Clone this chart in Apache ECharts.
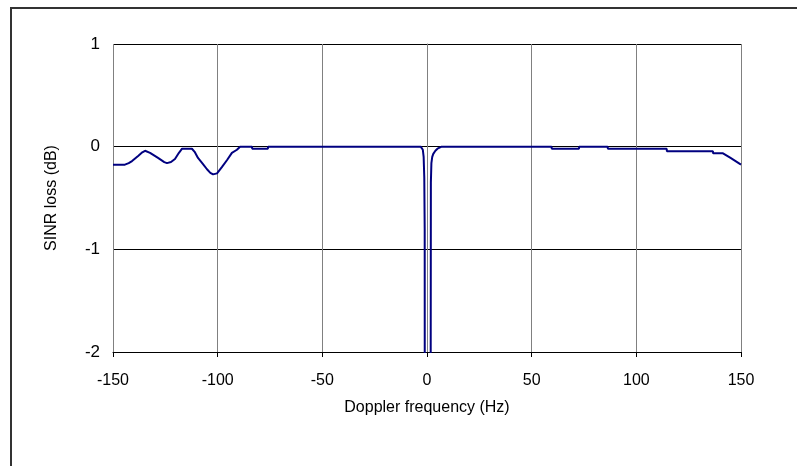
<!DOCTYPE html>
<html>
<head>
<meta charset="utf-8">
<script src="https://cdn.jsdelivr.net/npm/echarts@6/dist/echarts.min.js"></script>
<style>html,body{margin:0;padding:0;background:#fff}#c{width:797px;height:466px}</style>
</head>
<body>
<div id="c"></div>
<script>
const freq = [-150,-144.3,-142.5,-140.9,-138,-136,-134.7,-132.3,-128.5,-125.5,-124.2,-122.3,-120.4,-118.5,-117,-112.3,-111,-109.4,-107,-105.1,-103.5,-102.2,-100.3,-98,-95.5,-93.2,-90.8,-89.3,-83.6,-83.5,-76,-75.9,
  -3,-2.5,-2,-1.6,-1.3,-1.1,-1.0,0,1.7,1.75,1.85,2.1,2.5,3,4,5,7,
  59.5,59.6,72.6,72.7,86.3,86.4,114.5,114.6,136.6,136.7,141.4,145,150];
const loss = [-0.175,-0.175,-0.16,-0.14,-0.09,-0.055,-0.04,-0.06,-0.11,-0.15,-0.16,-0.15,-0.12,-0.06,-0.02,-0.02,-0.05,-0.11,-0.17,-0.22,-0.255,-0.27,-0.26,-0.2,-0.13,-0.06,-0.03,0,0,-0.02,-0.02,0,
  0,-0.01,-0.03,-0.1,-0.3,-0.8,-5,-40,-5,-2.5,-0.35,-0.16,-0.1,-0.07,-0.04,-0.02,0,
  0,-0.02,-0.02,0,0,-0.02,-0.02,-0.045,-0.045,-0.065,-0.065,-0.11,-0.175];
const xTicks = {min:-150, max:150, step:50};
const yTicks = {min:-2, max:1, step:1};

const chart = echarts.init(document.getElementById('c'), null, {renderer:'canvas'});
const pts = freq.map((f,i)=>[f, loss[i]]);
const font = 'Liberation Sans, Arial, sans-serif';
chart.setOption({
  animation:false,
  graphic:[{type:'rect', shape:{x:11,y:8,width:820,height:500}, style:{fill:'none', stroke:'#333', lineWidth:2}, silent:true}],
  grid:{left:113, right:56, top:44, bottom:114, containLabel:false},
  xAxis:{type:'value', min:xTicks.min, max:xTicks.max, interval:xTicks.step,
    name:'Doppler frequency (Hz)', nameLocation:'middle', nameGap:48,
    nameTextStyle:{fontFamily:font, fontSize:16, color:'#000'},
    axisLine:{onZero:false, lineStyle:{color:'#000', width:1}},
    axisTick:{show:true, length:5, lineStyle:{color:'#000'}},
    axisLabel:{fontFamily:font, fontSize:16, color:'#000', margin:21},
    splitLine:{show:true, lineStyle:{color:'#808080', width:1}}},
  yAxis:{type:'value', min:yTicks.min, max:yTicks.max, interval:yTicks.step,
    name:'SINR loss (dB)', nameLocation:'middle', nameGap:53, nameRotate:90,
    nameTextStyle:{fontFamily:font, fontSize:16, color:'#000'},
    axisLine:{show:true, lineStyle:{color:'#808080', width:1}},
    axisTick:{show:true, length:5, lineStyle:{color:'#000'}},
    axisLabel:{fontFamily:font, fontSize:17, color:'#000', margin:13},
    splitLine:{show:true, lineStyle:{color:'#000', width:1}}},
  series:[{type:'line', data:pts, showSymbol:false, symbol:'none', clip:true,
    lineStyle:{color:'#000080', width:2}}]
});
</script>
</body>
</html>
